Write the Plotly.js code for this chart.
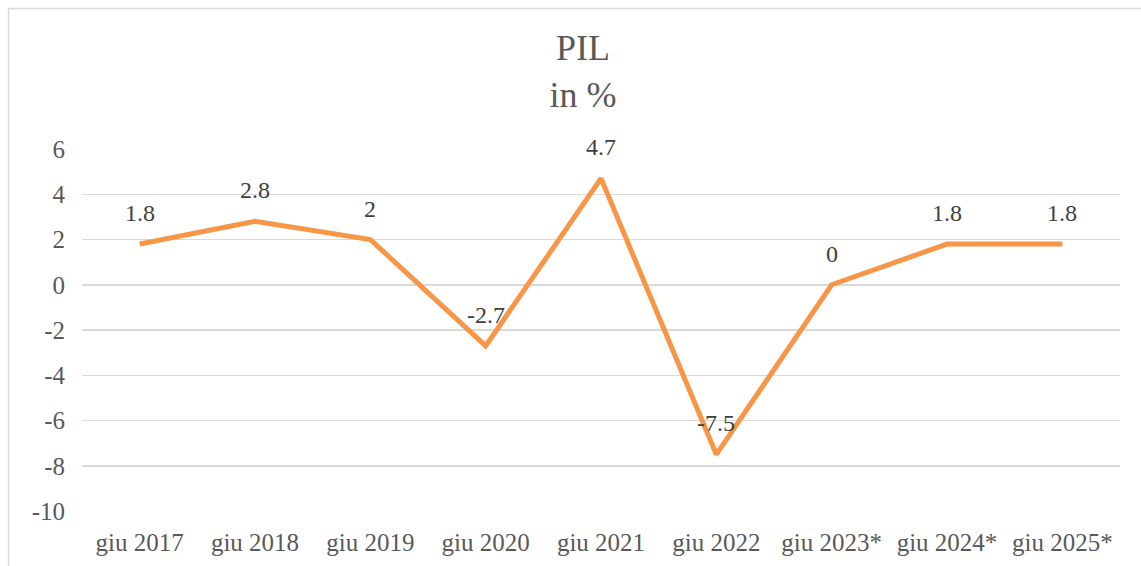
<!DOCTYPE html>
<html>
<head>
<meta charset="utf-8">
<script src="https://cdn.plot.ly/plotly-3.0.1.min.js"></script>
<style>html,body{margin:0;padding:0;background:#fff;}#chart{width:1141px;height:566px;}</style>
</head>
<body>
<div id="chart"></div>
<script>
const categories = ["giu 2017","giu 2018","giu 2019","giu 2020","giu 2021","giu 2022","giu 2023*","giu 2024*","giu 2025*"];
const pilValues = [1.8, 2.8, 2, -2.7, 4.7, -7.5, 0, 1.8, 1.8];
const valueLabels = ["1.8","2.8","2","-2.7","4.7","-7.5","0","1.8","1.8"];
const yTicks = [-10,-8,-6,-4,-2,0,2,4,6];

const FONT = "Liberation Serif, DejaVu Serif, serif";
const trace = {
  x: categories,
  y: pilValues,
  type: "scatter",
  mode: "lines",
  line: {color: "#F79646", width: 5},
  cliponaxis: false,
  hoverinfo: "skip"
};
const L = 82, R = 21, T = 149, B = 55, W = 1141 - L - R, H = 566 - T - B;
const annotations = categories.map((c, i) => ({
  x: c, y: pilValues[i], xref: "x", yref: "y",
  text: valueLabels[i], showarrow: false,
  xanchor: "center", yanchor: "middle", yshift: 31,
  font: {family: FONT, size: 24, color: "#404040"}
}));
const layout = {
  width: 1141, height: 566,
  margin: {l: L, r: R, t: T, b: B},
  paper_bgcolor: "#fff", plot_bgcolor: "#fff",
  showlegend: false,
  title: {
    text: "PIL<br>in %",
    font: {family: FONT, size: 36, color: "#595959"},
    x: 583/1141, xref: "container", xanchor: "center",
    y: 1 - 60/566, yref: "container", yanchor: "top"
  },
  xaxis: {
    type: "category",
    range: [-0.5, 8.5],
    showgrid: false, zeroline: false, showline: false,
    ticks: "", ticklabelstandoff: 14,
    tickfont: {family: FONT, size: 25, color: "#595959"}
  },
  yaxis: {
    range: [-10, 6],
    tickvals: yTicks,
    ticktext: yTicks.map(String),
    showgrid: true, gridcolor: "#d9d9d9", gridwidth: 1.5,
    zeroline: false, showline: false,
    ticks: "", ticklabelstandoff: 16,
    tickfont: {family: FONT, size: 25, color: "#595959"}
  },
  annotations: annotations,
  shapes: [{
    type: "rect", xref: "paper", yref: "paper",
    x0: (8.5 - L)/W, x1: (1150 - L)/W,
    y0: (H + T - 575)/H, y1: (H + T - 8.5)/H,
    line: {color: "#d9d9d9", width: 1.5}, fillcolor: "rgba(0,0,0,0)", layer: "below"
  }]
};
Plotly.newPlot("chart", [trace], layout, {staticPlot: true, displayModeBar: false});
</script>
</body>
</html>
